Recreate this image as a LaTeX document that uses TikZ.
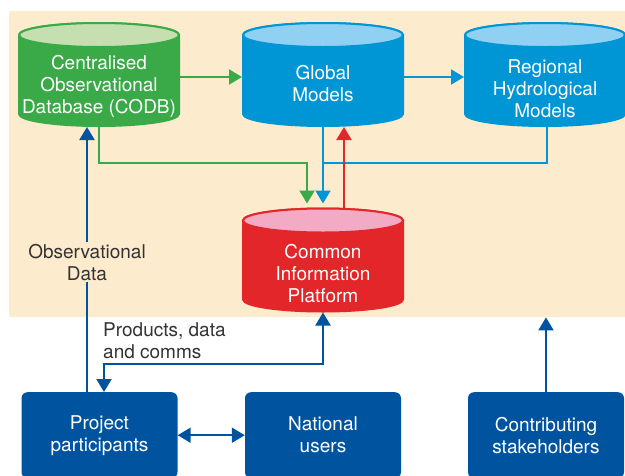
\documentclass[tikz,border=0pt]{standalone}
\usepackage{fontspec}
\setmainfont{TeX Gyre Heros}
\usepackage{xcolor}
\usetikzlibrary{arrows.meta,positioning}

\definecolor{bgsand}{RGB}{253,235,205}
\definecolor{codbgreen}{RGB}{58,170,72}
\definecolor{codbtop}{RGB}{198,223,177}
\definecolor{modelblue}{RGB}{0,150,214}
\definecolor{modeltop}{RGB}{143,208,243}
\definecolor{cipred}{RGB}{227,38,42}
\definecolor{ciptop}{RGB}{242,170,197}
\definecolor{userblue}{RGB}{0,84,159}
\definecolor{labelgrey}{RGB}{51,51,51}

\tikzset{
	drumframe/.style={rectangle, minimum width=162pt, minimum height=105pt, inner sep=0pt, outer sep=0pt},
	drumtext/.style={text=white, align=center, inner sep=0pt},
	userbox/.style={rectangle, rounded corners=6pt, fill=userblue, text=white,
		align=center, minimum width=156pt, minimum height=86pt, anchor=north},
	flow/.style={line width=2pt, -{Triangle[length=13pt,width=15pt]}},
	dualflow/.style={line width=2pt, {Triangle[length=13pt,width=15pt]}-{Triangle[length=13pt,width=15pt]}},
	note/.style={text=labelgrey, align=center, inner sep=2pt}
}

% name, x, y, body colour, top colour, text shift, text
\newcommand{\drum}[7]{%
	\filldraw[#4, line width=2pt] (#2-80,#3-39.5) -- (#2-80,#3+39.5)
		arc[start angle=180, end angle=0, x radius=80, y radius=12]
		-- (#2+80,#3-39.5)
		arc[start angle=0, end angle=-180, x radius=80, y radius=12] -- cycle;
	\filldraw[fill=#5, draw=#4, line width=2pt] (#2,#3-39.5) ellipse [x radius=80, y radius=12];
	\node (#1) [drumframe, label={[drumtext, yshift=#6]center:#7}] at (#2,#3) {};
}

\begin{document}
\begin{tikzpicture}[x=1pt,y=-1pt,font=\fontsize{19}{22}\selectfont]

	\useasboundingbox (0,0) rectangle (625,475);
	\clip (0,0) rectangle (625,475);

	% background area
	\node (area) [fill=bgsand, inner sep=0pt, minimum width=616pt, minimum height=306pt, anchor=north west] at (9,11) {};

	% databases and models
	\drum{codb}{99}{74.5}{codbgreen}{codbtop}{-11.5pt}{Centralised\\Observational\\Database (CODB)}
	\drum{global}{323}{74.5}{modelblue}{modeltop}{-9.5pt}{Global\\Models}
	\drum{regional}{545}{74.5}{modelblue}{modeltop}{-14.5pt}{Regional\\Hydrological\\Models}
	\drum{cip}{323}{260}{cipred}{ciptop}{-13.5pt}{Common\\Information\\Platform}

	% users
	\node (participants) [userbox] at (99.5,392) {Project\\participants};
	\node (national) [userbox] at (323,392) {National\\users};
	\node (stakeholders) [userbox] at (546,392) {Contributing\\stakeholders};

	\coordinate (bus) at (323,163);
	\coordinate (feed) at ([yshift=4pt]cip.north);
	\coordinate (obsline) at ([xshift=-12pt]codb.south);
	\coordinate (relay) at (104,364);

	% upper flows
	\draw[flow, codbgreen] ([yshift=-2.5pt]codb.east) -- ([yshift=-2.5pt]global.west);
	\draw[flow, modelblue] ([yshift=-2.5pt]global.east) -- ([yshift=-2.5pt]regional.west);
	\draw[flow, codbgreen] (codb.south) |- ([xshift=-16pt]bus) -- ([xshift=-16pt]feed);
	\draw[line width=2pt, modelblue] ([xshift=2pt]regional.south) |- (bus);
	\draw[flow, modelblue] (global.south) -- (feed);
	\draw[flow, cipred] ([xshift=21pt]cip.north) -- ([xshift=21pt]global.south);

	% lower flows
	\draw[flow, userblue] (participants.north -| obsline) -- (obsline)
		node[note, fill=bgsand, pos=0.49] {Observational\\Data};
	\draw[dualflow, userblue] (cip.south) |- (relay) -- (relay |- participants.north);
	\node (prodlabel) [note, align=left, inner sep=0pt, anchor=south west] at ([xshift=-1pt,yshift=5pt]relay) {Products, data\\and comms};
	\draw[dualflow, userblue] (participants.east) -- (national.west);
	\draw[flow, userblue] (stakeholders.north) -- (stakeholders.north |- area.south);

\end{tikzpicture}
\end{document}
